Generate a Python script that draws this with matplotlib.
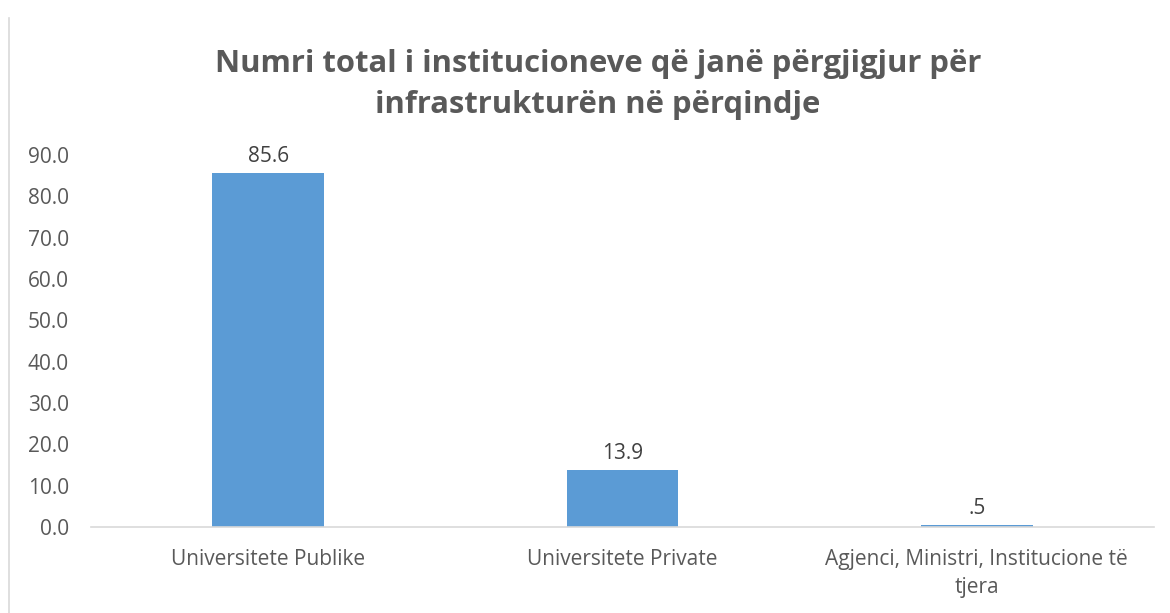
import matplotlib.pyplot as plt
from matplotlib.lines import Line2D

categories = ['Universitete Publike', 'Universitete Private', 'Agjenci, Ministri, Institucione të\ntjera']
values = [85.6, 13.9, 0.5]
value_labels = ['85.6', '13.9', '.5']
y_ticks = [0, 10, 20, 30, 40, 50, 60, 70, 80, 90]

plt.rcParams['font.family'] = ['Open Sans', 'DejaVu Sans']
text_color = '#595959'

fig = plt.figure(figsize=(11.7, 6.13), dpi=100)
ax = fig.add_axes([0.0778, 0.1403, 0.9085, 0.6068])

x = range(len(categories))
bars = ax.bar(x, values, width=0.316, color='#5B9BD5')
for b, lab in zip(bars, value_labels):
    ax.text(b.get_x() + b.get_width() / 2, b.get_height() + 1.4, lab,
            ha='center', va='bottom', fontsize=15, color='#404040', clip_on=False)

ax.set_xlim(-0.5, 2.5)
ax.set_ylim(0, 90)
ax.set_yticks(y_ticks)
ax.set_yticklabels([f'{t:.1f}' for t in y_ticks])
ax.set_xticks(list(x))
ax.set_xticklabels(categories, linespacing=1.45)
ax.tick_params(axis='both', length=0, labelsize=15, colors=text_color)
ax.tick_params(axis='y', pad=16)
ax.tick_params(axis='x', pad=16)

for s in ['top', 'right', 'left']:
    ax.spines[s].set_visible(False)
ax.spines['bottom'].set_color('#D9D9D9')
ax.spines['bottom'].set_linewidth(1.2)

fig.text(0.511, 0.862, 'Numri total i institucioneve që janë përgjigjur për\ninfrastrukturën në përqindje',
         ha='center', va='center', fontsize=22.3, fontweight='bold', color=text_color, linespacing=1.5)

fig.add_artist(Line2D([0.0077, 0.0077], [0, 0.97], transform=fig.transFigure, color='#D9D9D9', lw=1.2))

fig.savefig('out.png', dpi=100)
